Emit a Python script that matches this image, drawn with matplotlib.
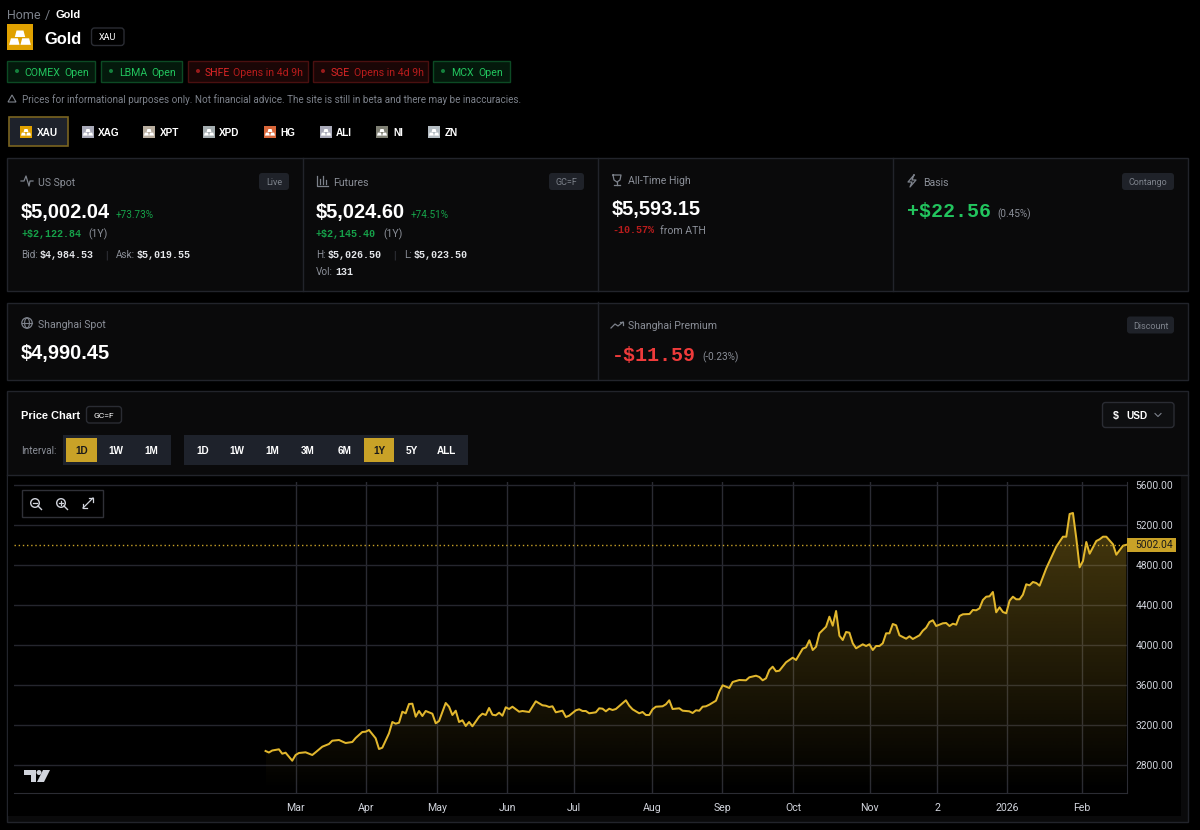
import numpy as np
import matplotlib
matplotlib.use('Agg')
import matplotlib.pyplot as plt
from matplotlib.patches import Rectangle, FancyBboxPatch, Polygon, Circle

# ── DATA ─────────────────────────────────────────────────────
sessions = [0, 1, 2, 4, 5, 6, 8, 9, 10, 12, 14, 15, 17, 19, 20, 22, 24, 26, 27, 29, 30, 31, 33, 34, 35, 37, 38, 39, 40,
            41, 42, 43, 44, 45, 46, 47, 48, 50, 51, 52, 54, 55, 56, 57, 58, 59, 60, 61, 62, 64, 65, 66, 67, 68, 69, 70,
            71, 72, 73, 74, 76, 77, 79, 81, 83, 84, 85, 86, 87, 89, 90, 91, 93, 94, 95, 96, 97, 99, 100, 101, 102, 103,
            104, 105, 108, 109, 110, 112, 113, 114, 115, 116, 117, 119, 120, 121, 122, 124, 125, 127, 128, 129, 130,
            131, 132, 133, 135, 136, 137, 139, 140, 142, 144, 145, 147, 148, 149, 150, 151, 152, 153, 154, 156, 158,
            159, 161, 162, 163, 164, 165, 166, 168, 169, 170, 171, 172, 173, 174, 175, 176, 177, 179, 180, 181, 182,
            183, 184, 185, 186, 187, 188, 189, 190, 192, 193, 194, 196, 197, 198, 199, 200, 201, 203, 204, 205, 206,
            207, 208, 209, 211, 212, 213, 214, 215, 216, 217, 218, 219, 220, 221, 222, 223, 224, 225, 226, 227, 228,
            229, 230, 231, 232, 234, 237, 239, 240, 241, 242, 243, 244, 245, 246, 247, 249, 250, 251, 252, 254, 255,
            257, 258]
prices = [2940, 2925, 2945, 2957, 2913, 2923, 2843, 2900, 2920, 2927, 2900, 2927, 2983, 3010, 3043, 3050, 3020, 3030,
          3070, 3130, 3133, 3150, 3067, 2960, 2973, 3117, 3230, 3213, 3223, 3333, 3317, 3410, 3413, 3283, 3340, 3290,
          3340, 3313, 3217, 3240, 3420, 3383, 3300, 3343, 3230, 3247, 3190, 3230, 3187, 3283, 3313, 3300, 3370, 3303,
          3297, 3323, 3293, 3377, 3360, 3383, 3333, 3340, 3330, 3437, 3397, 3393, 3380, 3387, 3327, 3343, 3280, 3293,
          3347, 3357, 3340, 3340, 3317, 3327, 3367, 3363, 3337, 3363, 3350, 3360, 3447, 3393, 3357, 3317, 3330, 3300,
          3300, 3357, 3383, 3387, 3407, 3447, 3360, 3367, 3343, 3337, 3320, 3347, 3343, 3383, 3387, 3403, 3443, 3533,
          3597, 3570, 3630, 3650, 3647, 3677, 3693, 3680, 3647, 3667, 3750, 3783, 3737, 3743, 3827, 3873, 3850, 3963,
          3977, 4047, 3950, 3983, 4117, 4183, 4283, 4193, 4340, 4093, 4050, 4130, 4123, 4017, 3967, 4007, 3990, 4007,
          3950, 3990, 3990, 4017, 4117, 4117, 4210, 4197, 4097, 4063, 4087, 4060, 4097, 4143, 4173, 4230, 4247, 4190,
          4217, 4220, 4190, 4213, 4203, 4290, 4307, 4310, 4350, 4347, 4367, 4450, 4483, 4487, 4530, 4327, 4377, 4330,
          4317, 4443, 4483, 4457, 4457, 4503, 4607, 4597, 4630, 4620, 4593, 4767, 4983, 5083, 5083, 5310, 5320, 5067,
          4777, 4840, 5030, 4913, 5040, 5057, 5083, 5083, 5007, 4903, 4993, 5002.04]
month_ticks = [9, 30.2, 51.3, 72.5, 92.5, 115.9, 136.9, 158.2, 181.1, 201.3, 222.3, 244.7]
month_labels = ['Mar', 'Apr', 'May', 'Jun', 'Jul', 'Aug', 'Sep', 'Oct', 'Nov', '2', '2026', 'Feb']
price_ticks = [2800, 3200, 3600, 4000, 4400, 4800, 5200, 5600]
last_price = 5002.04

venues = ['COMEX', 'LBMA', 'SHFE', 'SGE', 'MCX']
venue_status = ['Open', 'Open', 'Opens in 4d 9h', 'Opens in 4d 9h', 'Open']
metals = ['XAU', 'XAG', 'XPT', 'XPD', 'HG', 'ALI', 'NI', 'ZN']
intervals = ['1D', '1W', '1M']
ranges = ['1D', '1W', '1M', '3M', '6M', '1Y', '5Y', 'ALL']

# ── COLOURS ──────────────────────────────────────────────────
GOLD = '#c9a227'
LINE = '#e2b72d'
PANEL = '#0a0a0b'
BORDER = '#22242b'
GREY = '#8b8f98'
GREEN = '#22c55e'
DGREEN = '#16a34a'
RED = '#ef3b3b'
DRED = '#b91c1c'
SANS = 'Roboto'
HEAVY = 'Liberation Sans'
MONO = 'Liberation Mono'

fig = plt.figure(figsize=(12, 8.3), dpi=100, facecolor='black')
ui = fig.add_axes([0, 0, 1, 1])
ui.set_xlim(0, 1200)
ui.set_ylim(830, 0)
ui.axis('off')


def txt(x, y, s, px=11, color='white', weight='normal', family=None, ha='left'):
    # Roboto only has a regular cut here, heavy text goes through Liberation
    if family is None:
        family = HEAVY if weight == 'bold' else SANS
    ui.text(x, y, s, fontsize=px * 0.72, color=color, fontweight=weight, family=family, ha=ha, va='center_baseline')


def box(x0, y0, x1, y1, fc='none', ec='none', lw=1, radius=0):
    if radius:
        p = FancyBboxPatch((x0 + radius, y0 + radius), x1 - x0 - 2 * radius, y1 - y0 - 2 * radius,
                           boxstyle=f'round,pad={radius}', fc=fc, ec=ec, lw=lw)
    else:
        p = Rectangle((x0, y0), x1 - x0, y1 - y0, fc=fc, ec=ec, lw=lw)
    ui.add_patch(p)


def bars_icon(x, y, size, bg):
    # little stack of ingots, same glyph for every metal
    box(x, y, x + size, y + size, fc=bg)
    s = size / 12
    cx = x + size / 2
    for dx, dy in [(0, 3), (-2.6, 6.6), (2.6, 6.6)]:
        ui.add_patch(Polygon([(cx + (dx - 1.6) * s, y + dy * s), (cx + (dx + 1.6) * s, y + dy * s),
                              (cx + (dx + 2.4) * s, y + (dy + 3) * s), (cx + (dx - 2.4) * s, y + (dy + 3) * s)],
                             fc='white', ec='none'))


def card_icon(x, y, kind):
    c = '#7d828b'
    if kind == 'pulse':
        ui.plot([x - 6, x - 3, x - 1, x + 2, x + 3, x + 6], [y, y, y - 5, y + 5, y, y], color=c, lw=0.9)
    elif kind == 'bars':
        ui.plot([x - 5, x - 5, x + 6], [y - 5, y + 5, y + 5], color=c, lw=0.9)
        for dx, h in [(-2, 5), (1, 8), (4, 4)]:
            ui.plot([x + dx, x + dx], [y + 3, y + 3 - h], color=c, lw=0.9)
    elif kind == 'trophy':
        ui.plot([x - 4, x + 4, x + 3, x, x - 3, x - 4], [y - 5, y - 5, y, y + 2, y, y - 5], color=c, lw=0.9)
        ui.plot([x - 3, x + 3], [y + 5, y + 5], color=c, lw=0.9)
        ui.plot([x, x], [y + 2, y + 5], color=c, lw=0.9)
    elif kind == 'bolt':
        ui.plot([x + 2, x - 4, x, x - 2, x + 4, x, x + 2], [y - 6, y + 1, y + 1, y + 6, y - 1, y - 1, y - 6], color=c, lw=0.9)
    elif kind == 'globe':
        ui.add_patch(Circle((x, y), 5.2, fc='none', ec=c, lw=0.9))
        ui.plot([x - 5, x + 5], [y, y], color=c, lw=0.8)
        t = np.linspace(-1.57, 1.57, 20)
        ui.plot(x + 2.4 * np.cos(t), y + 5 * np.sin(t), color=c, lw=0.8)
        ui.plot(x - 2.4 * np.cos(t), y + 5 * np.sin(t), color=c, lw=0.8)
    elif kind == 'trend':
        ui.plot([x - 6, x - 2, x + 1, x + 6], [y + 3, y - 1, y + 1, y - 3], color=c, lw=0.9)
        ui.plot([x + 3, x + 6, x + 6], [y - 3, y - 3, y], color=c, lw=0.9)


def badge(x0, x1, y, s):
    box(x0, y - 8.5, x1, y + 8.5, fc='#1f2229', radius=3)
    txt((x0 + x1) / 2, y, s, 9, '#7d828b', ha='center')


# ── HEADER ───────────────────────────────────────────────────
txt(7, 14, 'Home', 12.5, '#7d828b')
txt(45, 14, '/', 12.5, '#7d828b')
txt(56, 14, 'Gold', 11, 'white', 'bold')
bars_icon(7, 24, 26, '#e0a100')
txt(44, 38, 'Gold', 16.5, 'white', 'bold')
box(91.5, 28, 124, 45.5, ec='#2a2c33', radius=3)
txt(107.7, 37, 'XAU', 9, 'white', ha='center')

pill_left = [7, 101, 188, 313, 433]
pill_right = [95, 182, 308, 428, 510]
name_x = [24, 119, 205, 331, 451]
status_x = [64, 151, 233, 354, 478]
for i, (name, status) in enumerate(zip(venues, venue_status)):
    is_open = status == 'Open'
    fc = '#04190c' if is_open else '#1a0606'
    ec = '#0c4a24' if is_open else '#4a1010'
    box(pill_left[i], 61, pill_right[i], 82, fc=fc, ec=ec)
    ui.add_patch(Circle((pill_left[i] + 10, 71), 2, fc='#15803d' if is_open else '#991b1b', ec='none'))
    txt(name_x[i], 71.5, name, 10.5, GREEN if is_open else '#dc2626')
    txt(status_x[i], 71.5, status, 10.5, GREEN if is_open else DRED)

ui.add_patch(Polygon([(12, 95), (16, 102), (8, 102)], fc='none', ec='#7d828b', lw=0.8))
txt(22, 99, 'Prices for informational purposes only. Not financial advice. The site is still in beta and there may be inaccuracies.',
    9.85, '#7d828b')

box(9, 117.5, 68, 146.5, fc='#1e222b', ec='#7a6420', lw=1.2)
icon_x = [20, 82, 143, 203, 264, 320, 376, 428]
label_x = [37, 98, 160, 219, 280, 336, 393, 445]
icon_col = ['#e0a100', '#a8a9b8', '#b8ad9e', '#a4adb0', '#d9673a', '#a8a9b8', '#7f8074', '#b4bcc2']
for m, ix, lx, col in zip(metals, icon_x, label_x, icon_col):
    bars_icon(ix, 126, 12, col)
    txt(lx, 132, m, 10, 'white', 'bold')

# ── STAT CARDS ───────────────────────────────────────────────
box(7, 158.5, 1188, 291, fc=PANEL, ec=BORDER)
box(7, 302.5, 1188, 379.5, fc=PANEL, ec=BORDER)
for xd in [302.5, 597.5, 892.5]:
    ui.plot([xd, xd], [158.5, 291], color=BORDER, lw=1)
ui.plot([597.5, 597.5], [302.5, 379.5], color=BORDER, lw=1)

card_icon(27, 181, 'pulse')
txt(38, 182, 'US Spot', 10.5, GREY)
badge(259, 289, 181.5, 'Live')
txt(21, 210, '$5,002.04', 20, 'white', 'bold')
txt(116, 214, '+73.73%', 10, DGREEN)
txt(21, 233, '+$2,122.84', 10, DGREEN, 'bold', MONO)
txt(88, 233, '(1Y)', 10.5, GREY)
txt(21, 254, 'Bid:', 10, GREY)
txt(40, 254, '$4,984.53', 10, '#e5e7eb', 'bold', MONO)
txt(105, 254, '|', 10, '#3a3d45')
txt(116, 254, 'Ask:', 10, GREY)
txt(137, 254, '$5,019.55', 10, '#e5e7eb', 'bold', MONO)

card_icon(322, 181, 'bars')
txt(333, 182, 'Futures', 10.5, GREY)
badge(549, 584, 181.5, 'GC=F')
txt(316, 210, '$5,024.60', 20, 'white', 'bold')
txt(411, 214, '+74.51%', 10, DGREEN)
txt(316, 233, '+$2,145.40', 10, DGREEN, 'bold', MONO)
txt(383, 233, '(1Y)', 10.5, GREY)
txt(316, 254, 'H:', 10, GREY)
txt(328, 254, '$5,026.50', 10, '#e5e7eb', 'bold', MONO)
txt(393, 254, '|', 10, '#3a3d45')
txt(404, 254, 'L:', 10, GREY)
txt(414, 254, '$5,023.50', 10, '#e5e7eb', 'bold', MONO)
txt(316, 271, 'Vol:', 10, GREY)
txt(335, 271, '131', 10, '#e5e7eb', 'bold', MONO)

card_icon(617, 180, 'trophy')
txt(628, 180, 'All-Time High', 10.5, GREY)
txt(612, 207, '$5,593.15', 20, 'white', 'bold')
txt(612, 229, '-10.57%', 10, DRED, 'bold', MONO)
txt(660, 230, 'from ATH', 10.5, GREY)

card_icon(912, 181, 'bolt')
txt(923, 182, 'Basis', 10.5, GREY)
badge(1122, 1174, 181.5, 'Contango')
txt(907, 209, '+$22.56', 20, GREEN, 'bold', MONO)
txt(997, 213, '(0.45%)', 10, GREY)

card_icon(27, 323, 'globe')
txt(38, 324, 'Shanghai Spot', 10.5, GREY)
txt(21, 351, '$4,990.45', 20, 'white', 'bold')

card_icon(617, 325, 'trend')
txt(628, 325, 'Shanghai Premium', 10.5, GREY)
badge(1127, 1174, 325, 'Discount')
txt(612, 353, '-$11.59', 20, RED, 'bold', MONO)
txt(702, 356, '(-0.23%)', 10, GREY)

# ── PRICE CHART PANEL ────────────────────────────────────────
box(7, 391, 1188, 822, fc=PANEL, ec=BORDER)
ui.plot([7, 1188], [474.5, 474.5], color=BORDER, lw=1)
txt(21, 415, 'Price Chart', 11, 'white', 'bold')
box(86.5, 406.5, 121.5, 423, ec='#2a2c33', radius=3)
txt(104, 415, 'GC=F', 8.5, 'white', ha='center')
box(1102.5, 402.5, 1174, 427.5, fc='#0e0f11', ec='#2a2c33', radius=3)
txt(1116, 415, '$', 10.5, 'white', 'bold', ha='center')
txt(1137, 415, 'USD', 10, 'white', 'bold', ha='center')
ui.plot([1155, 1158, 1161], [413.5, 416.5, 413.5], color='#7d828b', lw=0.8)

txt(21, 450, 'Interval:', 10, GREY)
box(63, 435, 171, 465, fc='#1e222b')
box(66, 438, 97, 461.5, fc=GOLD)
for lab, cx in zip(intervals, [82, 116, 151]):
    txt(cx, 450, lab, 10, '#1a1a1a' if lab == '1D' else 'white', 'bold', ha='center')
box(184, 435, 468, 465, fc='#1e222b')
box(364, 438, 394, 461.5, fc=GOLD)
for lab, cx in zip(ranges, [203, 237, 272, 308, 345, 379, 412, 446]):
    txt(cx, 450, lab, 10, '#1a1a1a' if lab == '1Y' else 'white', 'bold', ha='center')

box(8, 476, 1181, 816, fc='black')

# ── CHART ────────────────────────────────────────────────────
ax = fig.add_axes([14 / 1200, 1 - 793 / 830, (1127 - 14) / 1200, (793 - 482) / 830], facecolor='black')
ax.set_xlim(-75.4, 258.2)
ax.set_ylim(2520, 5630)
ax.set_yticks(price_ticks)
ax.set_yticklabels([f'{p:.2f}' for p in price_ticks])
ax.set_xticks(month_ticks)
ax.set_xticklabels(month_labels)
ax.yaxis.tick_right()
ax.tick_params(axis='y', length=0, pad=6.2, labelsize=7.4, labelcolor='#d1d4dc')
ax.tick_params(axis='x', length=0, pad=7, labelsize=7.6, labelcolor='#d1d4dc')
for lab in ax.get_xticklabels() + ax.get_yticklabels():
    lab.set_family('Roboto')
ax.grid(True, axis='y', color='#25262e', lw=1)
ax.grid(True, axis='x', color='#2a2b33', lw=1)
ax.set_axisbelow(True)
for side, sp in ax.spines.items():
    sp.set_visible(side in ('right', 'bottom'))
    sp.set_color('#2b2c33')

# gradient under the line, clipped to the area
grad = np.zeros((256, 2, 4))
grad[..., :3] = matplotlib.colors.to_rgb(LINE)
grad[..., 3] = np.linspace(0.32, 0.0, 256)[:, None]
img = ax.imshow(grad, extent=[sessions[0], sessions[-1], 2520, max(prices)], origin='upper', aspect='auto', zorder=2)
poly = Polygon(list(zip(sessions, prices)) + [(sessions[-1], 2520), (sessions[0], 2520)], transform=ax.transData,
               fc='none', ec='none')
ax.add_patch(poly)
img.set_clip_path(poly)
ax.set_xlim(-75.4, 258.2)
ax.set_ylim(2520, 5630)

ax.plot(sessions, prices, color=LINE, lw=1.45, zorder=3, solid_joinstyle='round')
ax.axhline(last_price, color=GOLD, lw=1, ls=(0, (1, 2)), zorder=3)
ax.add_patch(Rectangle((1, last_price - 70), 49 / 1113, 140, transform=ax.get_yaxis_transform(), fc=GOLD, ec='none',
                       clip_on=False, zorder=4))
ax.annotate(f'{last_price:.2f}', xy=(1, last_price), xycoords=('axes fraction', 'data'), xytext=(6.2, 0),
            textcoords='offset points', va='center', ha='left', fontsize=7.4, family='Roboto', color='#1a1a1a',
            annotation_clip=False, zorder=5)

# ── TOOLBAR AND LOGO ─────────────────────────────────────────
over = fig.add_axes([0, 0, 1, 1], facecolor='none')
over.set_xlim(0, 1200)
over.set_ylim(830, 0)
over.axis('off')
over.add_patch(Rectangle((21.5, 489.5), 81, 27.5, fc='black', ec='#2f3037', lw=1))
for cx, sign in [(35, '-'), (61, '+')]:
    over.add_patch(Circle((cx, 503), 4.3, fc='none', ec='#d1d4dc', lw=1))
    over.plot([cx + 3, cx + 6.5], [506, 509.5], color='#d1d4dc', lw=1)
    over.plot([cx - 2, cx + 2], [503, 503], color='#d1d4dc', lw=0.9)
    if sign == '+':
        over.plot([cx, cx], [501, 505], color='#d1d4dc', lw=0.9)
over.plot([83, 93], [508, 498], color='#d1d4dc', lw=0.9)
over.plot([83, 83, 87], [504, 508, 508], color='#d1d4dc', lw=0.9)
over.plot([89, 93, 93], [498, 498, 502], color='#d1d4dc', lw=0.9)
over.add_patch(Polygon([(24, 770), (36, 770), (36, 782), (31, 782), (31, 775), (24, 775)], fc='#d1d4dc', ec='none'))
over.add_patch(Circle((39, 772.5), 2.5, fc='#d1d4dc', ec='none'))
over.add_patch(Polygon([(43, 770), (50, 770), (44, 782), (37, 782)], fc='#d1d4dc', ec='none'))

fig.savefig('out.png', dpi=100, facecolor='black')
